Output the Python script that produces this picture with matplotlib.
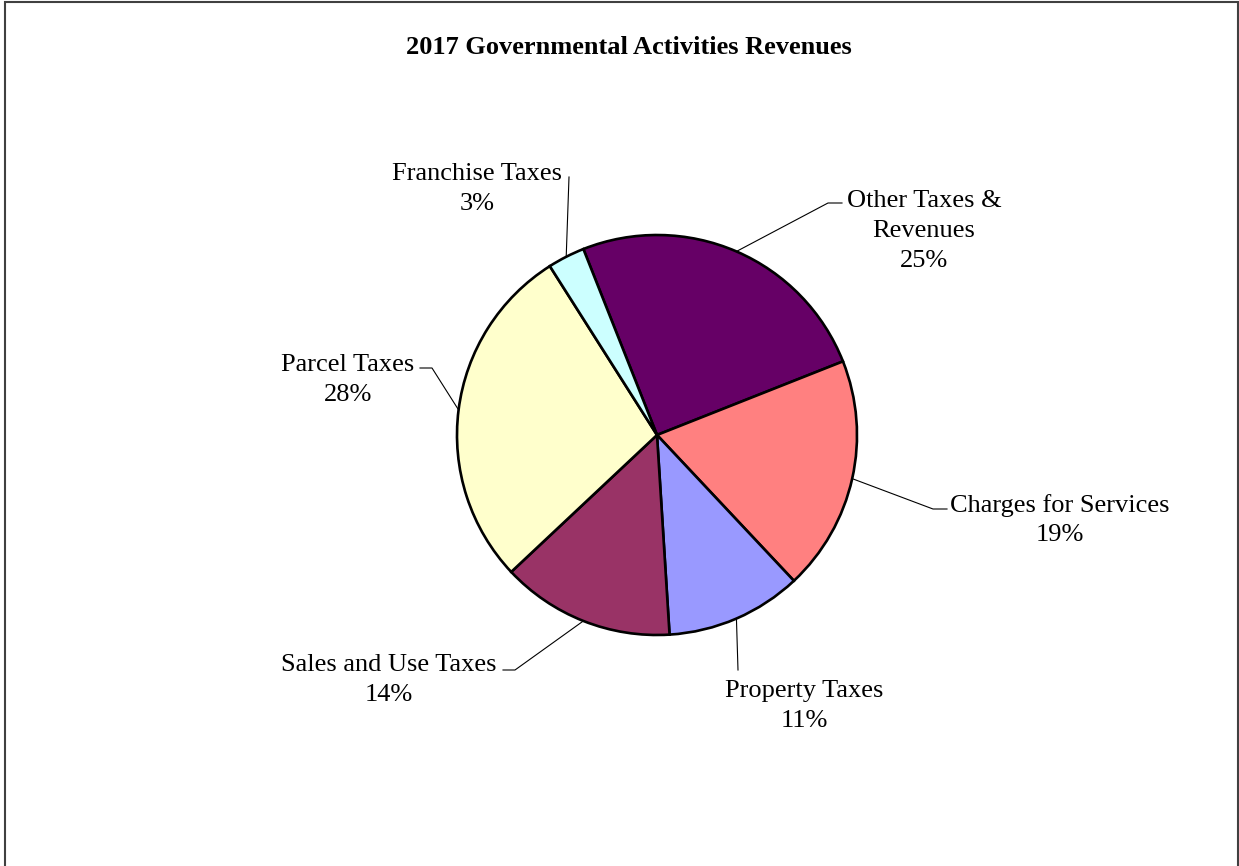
import matplotlib.pyplot as plt
import numpy as np

# Ingresos de actividades gubernamentales 2017 (porcentaje del total)
categorias = ['Other Taxes &\nRevenues', 'Charges for Services', 'Property Taxes',
              'Sales and Use Taxes', 'Parcel Taxes', 'Franchise Taxes']
porcentajes = [25, 19, 11, 14, 28, 3]
colores = ['#660066', '#FF8080', '#9999FF', '#993366', '#FFFFCC', '#CCFFFF']

# Posicion de cada etiqueta (pixeles, origen arriba a la izquierda) y puntos del guion
pos_etiquetas = [(924, 231), (1060, 520), (804, 706), (389, 680), (348, 380), (477, 189)]
guiones = [[(842, 203), (828, 203)], [(947, 509), (933, 509)], [(738, 670)],
           [(503, 670), (515, 670)], [(420, 368), (432, 368)], [(569, 177)]]

W, H = 1239, 866
fig = plt.figure(figsize=(W / 100, H / 100), dpi=100)
ax = fig.add_axes([0, 0, 1, 1])

cx, cy, r = 657, H - 435, 200
wedges, _ = ax.pie(porcentajes, colors=colores, startangle=111.6, counterclock=False,
                   center=(cx, cy), radius=r,
                   wedgeprops={'edgecolor': 'black', 'linewidth': 1.9})
ax.set_xlim(0, W)
ax.set_ylim(0, H)
ax.set_aspect('auto')
ax.axis('off')

fuente = 'Liberation Serif'
for w, nombre, pct, (tx, ty), guion in zip(wedges, categorias, porcentajes, pos_etiquetas, guiones):
    ang = np.deg2rad((w.theta1 + w.theta2) / 2)
    borde = (cx + r * np.cos(ang), cy + r * np.sin(ang))
    xs = [p[0] for p in guion] + [borde[0]]
    ys = [H - p[1] for p in guion] + [borde[1]]
    ax.plot(xs, ys, color='black', linewidth=0.8)
    ax.text(tx, H - ty, f'{nombre}\n{pct}%', ha='center', va='center',
            multialignment='center', fontsize=19, family=fuente, linespacing=1.45)

ax.text(629, H - 47, '2017 Governmental Activities Revenues', ha='center', va='center',
        fontsize=19, fontweight='bold', family=fuente)

# Marco del grafico
ax.plot([4.5, 4.5, 1237.5, 1237.5], [0, H - 1.5, H - 1.5, 0], color='#404040', linewidth=1.5,
        solid_joinstyle='miter')

fig.savefig('out.png', dpi=100)
